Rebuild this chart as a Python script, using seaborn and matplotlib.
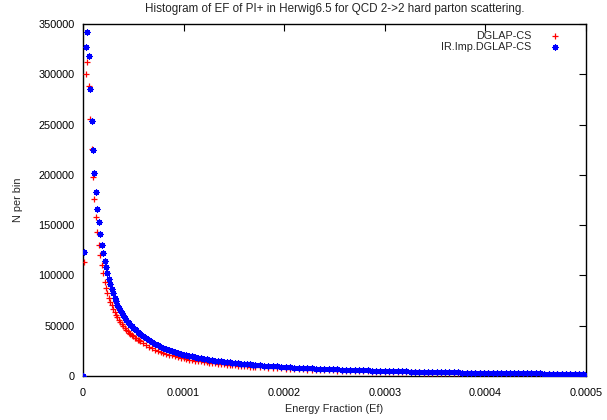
import numpy as np
import pandas as pd
import seaborn as sns
import matplotlib.pyplot as plt
from matplotlib.ticker import FixedLocator

# histogram bins: 350 bins over [0, 0.0005]
bin_w = 0.0005 / 350
bin_idx = np.concatenate([np.arange(0, 41), np.arange(42, 121, 2), np.arange(123, 349, 3), [350]])

# counts per bin, in thousands
dglap_k = [
    0, 113.6, 300, 312, 288, 256, 226, 197.6, 175.7, 158.4, 143.5, 130.3, 120.3, 110.4, 102, 93.8,
    87.5, 82.6, 77.8, 73.7, 70.5, 66.8, 63.2, 60.7, 58.2, 55.8, 53.7, 51.7, 49.6, 47.6, 45.9,
    44.3, 43.1, 41.8, 40.6, 39.4, 38.1, 37.3, 36.1, 35.3, 34.4,
    32.4, 30.8, 29.1, 27.5, 26.2, 25.0, 23.8, 23.0, 22.1, 21.3, 20.5, 19.7, 18.9, 18.0, 17.5,
    16.9, 16.4, 15.9, 15.4, 14.9, 14.5, 14.1, 13.7, 13.3, 13.0, 12.6, 12.3, 12.0, 11.6, 11.4,
    11.1, 10.8, 10.6, 10.3, 10.1, 9.8, 9.7, 9.4, 9.3, 9.0,
    8.8, 8.5, 8.3, 8.0, 7.8, 7.5, 7.3, 7.1, 6.9, 6.7, 6.6, 6.4, 6.2, 6.1, 5.9, 5.7, 5.6, 5.5,
    5.3, 5.2, 5.1, 4.9, 4.8, 4.7, 4.6, 4.5, 4.4, 4.3, 4.2, 4.1, 4.0, 3.95, 3.9, 3.8, 3.7, 3.65,
    3.6, 3.5, 3.4, 3.35, 3.3, 3.2, 3.15, 3.1, 3.0, 2.95, 2.9, 2.85, 2.8, 2.75, 2.7, 2.65, 2.6,
    2.55, 2.5, 2.45, 2.4, 2.4, 2.35, 2.3, 2.25, 2.2, 2.2, 2.15, 2.1, 2.1, 2.05, 2.0, 2.0, 1.95,
    1.95, 1.9, 1.85, 1.85, 1.8, 1.8,
    0,
]
irimp_k = [
    0, 123, 327, 342, 318, 285, 254, 225, 201.5, 183, 166, 153, 141, 130.5, 122, 114,
    108, 102, 96, 91, 87, 82.5, 78, 74.5, 71, 68, 65.5, 63, 60.5, 58, 56,
    54, 52.5, 51, 49.5, 48, 46.5, 45.5, 44, 43, 42,
    39.5, 37.5, 35.5, 33.5, 32, 30.5, 29, 28, 27, 26, 25, 24, 23, 22, 21.3,
    20.6, 20, 19.4, 18.8, 18.2, 17.7, 17.2, 16.7, 16.2, 15.8, 15.4, 15, 14.6, 14.2, 13.9,
    13.5, 13.2, 12.9, 12.6, 12.3, 12, 11.8, 11.5, 11.3, 11.0,
    10.7, 10.4, 10.1, 9.8, 9.5, 9.2, 8.9, 8.7, 8.4, 8.2, 8.0, 7.8, 7.6, 7.4, 7.2, 7.0, 6.8, 6.7,
    6.5, 6.3, 6.2, 6.0, 5.9, 5.7, 5.6, 5.5, 5.3, 5.2, 5.1, 5.0, 4.9, 4.8, 4.7, 4.6, 4.5, 4.4,
    4.3, 4.2, 4.1, 4.0, 3.9, 3.85, 3.8, 3.7, 3.6, 3.55, 3.5, 3.4, 3.35, 3.3, 3.2, 3.15, 3.1,
    3.05, 3.0, 2.95, 2.9, 2.85, 2.8, 2.75, 2.7, 2.65, 2.6, 2.55, 2.5, 2.5, 2.45, 2.4, 2.35, 2.3,
    2.3, 2.25, 2.2, 2.2, 2.15, 2.1,
    0,
]

x_ticks = [0, 0.0001, 0.0002, 0.0003, 0.0004, 0.0005]
x_labels = ['0', '0.0001', '0.0002', '0.0003', '0.0004', '0.0005']
y_ticks = [0, 50000, 100000, 150000, 200000, 250000, 300000, 350000]

ef = bin_idx * bin_w
df = pd.DataFrame({'ef': ef, 'dglap': np.array(dglap_k) * 1000, 'irimp': np.array(irimp_k) * 1000})

sns.set_style('white')
plt.rcParams['font.family'] = ['Liberation Sans', 'DejaVu Sans']
fs = 7.8

fig = plt.figure(figsize=(6.07, 4.2), dpi=100)
ax = fig.add_axes([83 / 607, 1 - 376 / 420, 503 / 607, 352 / 420])

sns.scatterplot(data=df, x='ef', y='dglap', ax=ax, marker='+', color='#ff0000',
                s=18, linewidth=0.9, label='DGLAP-CS', zorder=3)
sns.scatterplot(data=df, x='ef', y='irimp', ax=ax, marker=(8, 2, 0), color='#0000ff',
                edgecolor='#0000ff', s=15, linewidth=0.9, label='IR.Imp.DGLAP-CS', zorder=4)

ax.set_xlim(0, 0.0005)
ax.set_ylim(0, 350000)
ax.xaxis.set_major_locator(FixedLocator(x_ticks))
ax.set_xticklabels(x_labels)
ax.yaxis.set_major_locator(FixedLocator(y_ticks))
ax.set_yticklabels([str(v) for v in y_ticks])
ax.tick_params(direction='in', length=5, width=0.8, top=True, right=True,
               labelsize=fs, colors='black', pad=6)
ax.tick_params(axis='x', pad=9)
for sp in ax.spines.values():
    sp.set_visible(True)
    sp.set_color('black')
    sp.set_linewidth(1.0)

ax.set_title('Histogram of EF of PI+ in Herwig6.5 for QCD 2->2 hard parton scattering.',
             fontsize=8.4, pad=8.5)
ax.set_xlabel('Energy Fraction (Ef)', fontsize=fs, labelpad=4)
ax.set_ylabel('N per bin', fontsize=fs, labelpad=11)

ax.legend(loc='upper right', bbox_to_anchor=(0.971, 0.995), frameon=False, markerfirst=False,
          fontsize=fs, handlelength=2.0, handletextpad=1.2, borderpad=0, labelspacing=0.1)

fig.savefig('out.png', dpi=100)
